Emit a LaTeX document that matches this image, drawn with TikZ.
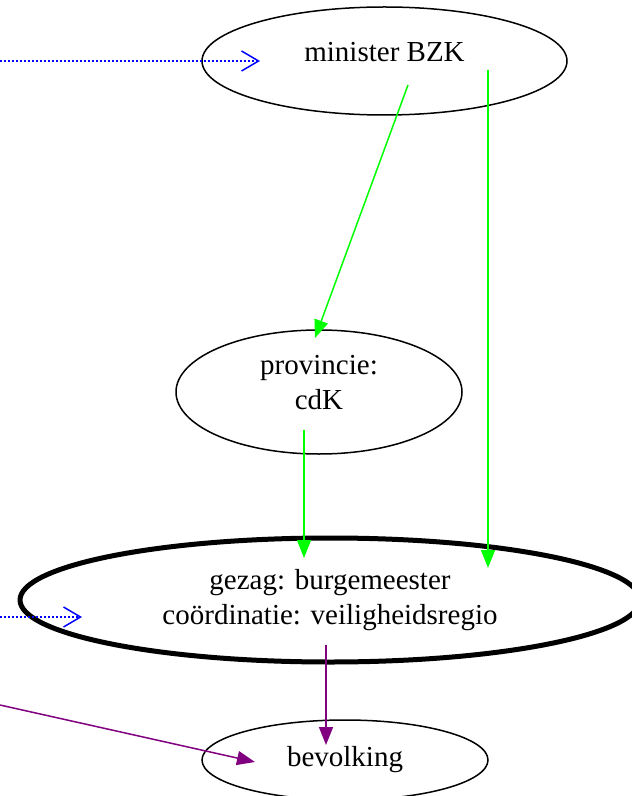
\documentclass[tikz,border=0pt]{standalone}
\usepackage{fontspec}
\setmainfont{Liberation Serif}
\usetikzlibrary{shapes,arrows.meta}
\definecolor{paars}{RGB}{128,0,128}
\tikzstyle{role} = [ellipse, draw, line width=0.75pt, inner sep=0pt,
font=\fontsize{14.5}{17.5}\selectfont, align=center]
\tikzstyle{line} = [draw, line width=0.75pt, -{Triangle[length=9pt,width=7pt]}]
\tikzstyle{link} = [draw, blue, line width=0.75pt, dash pattern=on 0.75pt off 1.25pt,
-{Straight Barb[length=8.5pt,width=10pt,line width=0.75pt]}]

\begin{document}
\begin{tikzpicture}[x=0.5pt, y=-0.5pt, node distance=2cm, auto]
\useasboundingbox (0,0) rectangle (631,796);
% Place nodes
\node [role, minimum width=182.5pt, minimum height=54pt, text depth=9pt] (minister) at (384.5,61) {minister BZK};
\node [role, below of=minister, node distance=165.5pt, xshift=-32.75pt,
minimum width=143pt, minimum height=62pt, text depth=10pt] (provincie) {provincie:\\cdK};
\node [role, below of=provincie, node distance=104pt, xshift=5.5pt, line width=2.5pt,
minimum width=310pt, minimum height=62pt] (gezag) {gezag: burgemeester\\co\"ordinatie: veiligheidsregio};
\node [role, below of=gezag, node distance=80pt, xshift=7.5pt,
minimum width=143pt, minimum height=40pt] (bevolking) {bevolking};
\coordinate (rijk) at (0,61);
\coordinate (regio) at (0,617);
\coordinate (burger) at (0,705);
% Draw edges
\path [link] (rijk) -- ([xshift=-62.25pt]minister.center);
\path [link] (regio) -- ([xshift=-124pt,yshift=-8.5pt]gezag.center);
\path [line, green] ([xshift=11.75pt,yshift=-12pt]minister.center) -- ([xshift=-2pt,yshift=27pt]provincie.center);
\path [line, green] ([xshift=51.75pt,yshift=-4.5pt]minister.center) -- ([xshift=79pt,yshift=16pt]gezag.center);
\path [line, green] ([xshift=-7.5pt,yshift=-19pt]provincie.center) -- ([xshift=-13pt,yshift=21pt]gezag.center);
\path [line, paars] ([xshift=-2pt,yshift=-22.5pt]gezag.center) -- ([xshift=-9.5pt,yshift=7.5pt]bevolking.center);
\path [line, paars] (burger) -- ([xshift=-45pt,yshift=-1pt]bevolking.center);
\end{tikzpicture}
\end{document}
